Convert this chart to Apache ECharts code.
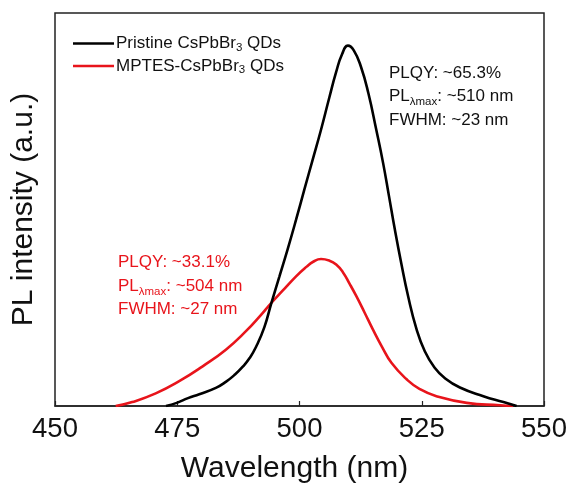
<!DOCTYPE html>
<html>
<head>
<meta charset="utf-8">
<script src="https://cdn.jsdelivr.net/npm/echarts@6/dist/echarts.min.js"></script>
<style>
  html, body { margin: 0; padding: 0; background: #fff; }
  #chart { width: 574px; height: 489px; }
</style>
</head>
<body>
<div id="chart"></div>
<script>
// [wavelength (nm), intensity (a.u., 0-1 of axis)]
const pristine = [
  [472.7, 0.000], [474.9, 0.008], [477.2, 0.020], [479.5, 0.030], [482.9, 0.046],
  [485.0, 0.062], [486.8, 0.080], [488.4, 0.100], [489.8, 0.122], [491.1, 0.150],
  [492.8, 0.200], [494.2, 0.260], [495.9, 0.330], [497.6, 0.400], [499.3, 0.474],
  [501.0, 0.551], [502.7, 0.627], [504.4, 0.703], [506.1, 0.785], [507.5, 0.850],
  [508.7, 0.895], [509.9, 0.917], [511.1, 0.905], [512.6, 0.862], [514.1, 0.795],
  [515.7, 0.703], [517.1, 0.618], [518.3, 0.534], [519.5, 0.449], [520.8, 0.364],
  [522.2, 0.280], [523.9, 0.197], [525.6, 0.140], [527.6, 0.098], [529.8, 0.070],
  [532.8, 0.047], [537.6, 0.025], [541.7, 0.010], [544.4, 0.000]
];
const mptes = [
  [462.4, 0.000], [465.8, 0.010], [470.6, 0.032], [475.4, 0.063], [480.2, 0.101],
  [485.0, 0.144], [489.1, 0.191], [492.0, 0.230], [494.2, 0.262], [496.6, 0.294],
  [499.3, 0.330], [501.4, 0.354], [502.8, 0.367], [504.4, 0.374], [506.1, 0.370],
  [507.5, 0.360], [508.9, 0.340], [510.2, 0.312], [511.6, 0.280], [513.3, 0.238],
  [515.0, 0.195], [516.9, 0.150], [518.8, 0.110], [521.9, 0.068], [524.6, 0.043],
  [528.0, 0.025], [534.2, 0.008], [541.0, 0.002], [543.7, 0.000]
];
const xTicks = [450, 475, 500, 525, 550];
const pristineInfo = ['PLQY: ~65.3%', '~510 nm', 'FWHM: ~23 nm'];
const mptesInfo = ['PLQY: ~33.1%', '~504 nm', 'FWHM: ~27 nm'];

const font = 'Liberation Sans, Arial, sans-serif';
const chart = echarts.init(document.getElementById('chart'));

function infoBlock(lines, x, y, color) {
  return {
    type: 'text',
    left: x,
    top: y,
    style: {
      text: '{n|' + lines[0] + '}\n{n|PL}{s|λmax}{n|: ' + lines[1] + '}\n{n|' + lines[2] + '}',
      fill: color,
      rich: {
        n: { fontFamily: font, fontSize: 17, lineHeight: 23.5, fill: color },
        s: { fontFamily: font, fontSize: 11.5, lineHeight: 11, verticalAlign: 'bottom', fill: color }
      }
    }
  };
}

chart.setOption({
  backgroundColor: '#fff',
  animation: false,
  grid: {
    left: 55, right: 30, top: 13, bottom: 83,
    show: true, borderColor: '#222', borderWidth: 1.5
  },
  legend: {
    left: 68, top: 30, orient: 'vertical', itemGap: 4,
    icon: 'rect', itemWidth: 41, itemHeight: 2.6,
    data: ['Pristine', 'MPTES'],
    formatter: name => name === 'Pristine'
      ? '{n|Pristine CsPbBr}{s|3}{n| QDs}'
      : '{n|MPTES-CsPbBr}{s|3}{n| QDs}',
    textStyle: {
      padding: [0, 0, 0, -3],
      rich: {
        n: { fontFamily: font, fontSize: 17, lineHeight: 20, color: '#111' },
        s: { fontFamily: font, fontSize: 11.5, lineHeight: 10, verticalAlign: 'bottom', color: '#111' }
      }
    }
  },
  xAxis: {
    type: 'value', min: 450, max: 550, interval: 25,
    name: 'Wavelength (nm)', nameLocation: 'middle', nameGap: 48,
    nameTextStyle: { fontFamily: font, fontSize: 30, color: '#111', padding: [0, 10, 0, 0] },
    axisLine: { lineStyle: { color: '#222', width: 1.5 } },
    axisTick: { inside: true, length: 5, lineStyle: { color: '#222', width: 1.2 } },
    axisLabel: {
      fontFamily: font, fontSize: 27.5, color: '#111', margin: 9,
      formatter: v => xTicks.includes(v) ? String(v) : ''
    },
    splitLine: { show: false }
  },
  yAxis: {
    type: 'value', min: 0, max: 1,
    name: 'PL intensity (a.u.)', nameLocation: 'middle', nameGap: 16,
    nameTextStyle: { fontFamily: font, fontSize: 30, color: '#111' },
    axisLine: { show: false }, axisTick: { show: false },
    axisLabel: { show: false }, splitLine: { show: false }
  },
  series: [
    {
      name: 'Pristine', type: 'line', data: pristine, smooth: 0.5,
      symbol: 'none', lineStyle: { color: '#000', width: 2.6 },
      itemStyle: { color: '#000' }, z: 3
    },
    {
      name: 'MPTES', type: 'line', data: mptes, smooth: 0.5,
      symbol: 'none', lineStyle: { color: '#e8141b', width: 2.6 },
      itemStyle: { color: '#e8141b' }, z: 2
    }
  ],
  graphic: [
    infoBlock(pristineInfo, 389, 64.5, '#111'),
    infoBlock(mptesInfo, 118, 254, '#e8141b')
  ]
});
</script>
</body>
</html>
